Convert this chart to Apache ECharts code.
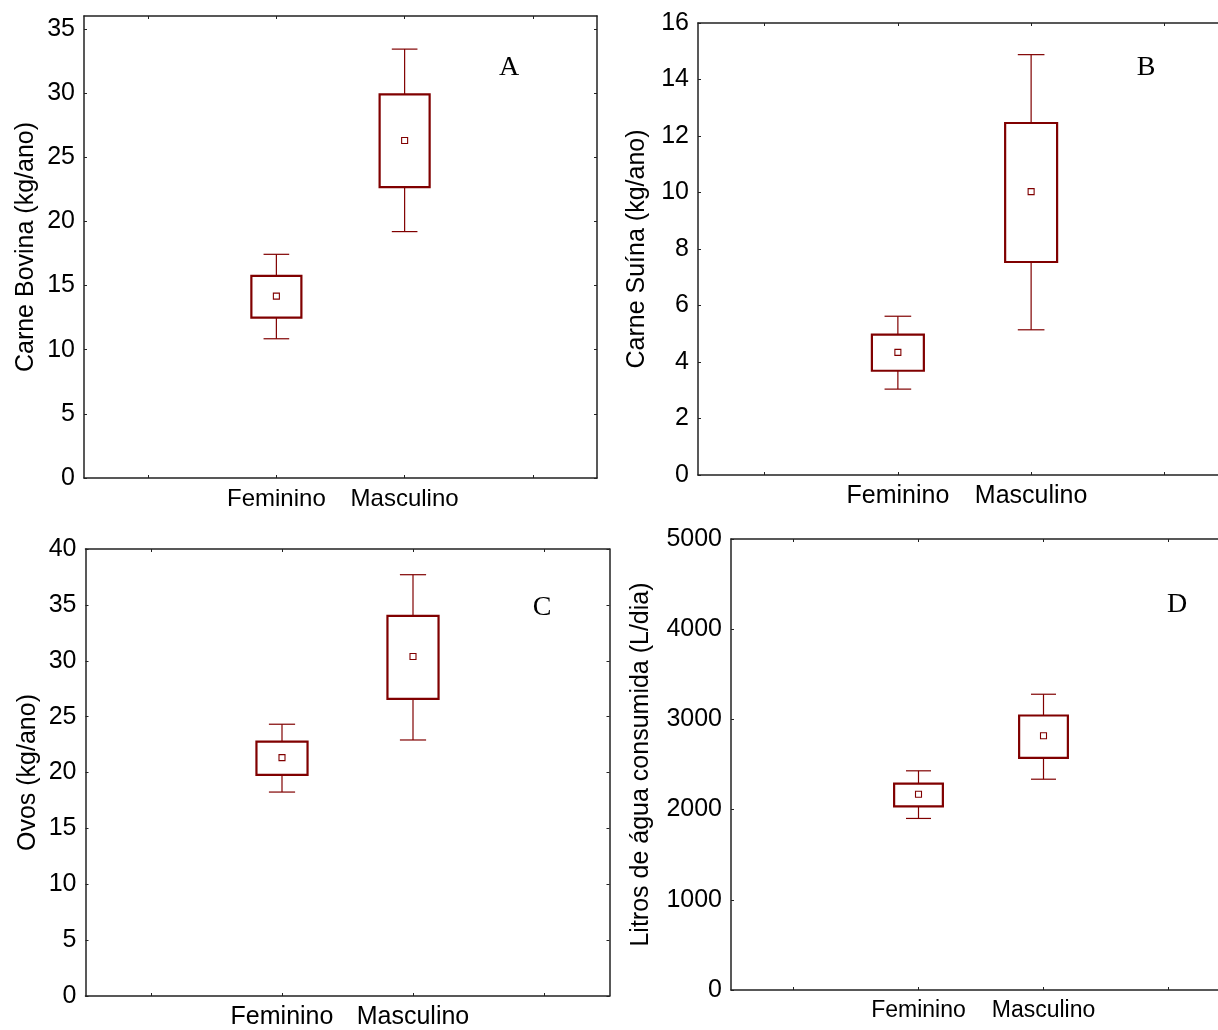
<!DOCTYPE html>
<html>
<head>
<meta charset="utf-8">
<script src="https://cdn.jsdelivr.net/npm/echarts@6/dist/echarts.min.js"></script>
<style>
  html, body { margin: 0; padding: 0; background: #fff; }
  #chart { width: 1218px; height: 1030px; }
</style>
</head>
<body>
<div id="chart"></div>
<script>
// Groups shown on every panel
const categories = ['Feminino', 'Masculino'];

// Each entry: [lower whisker, box bottom, mean, box top, upper whisker]
const bovinaFem = [10.85, 12.49, 14.17, 15.75, 17.43];
const bovinaMasc = [19.2, 22.67, 26.3, 29.9, 33.42];
const suinaFem = [3.04, 3.69, 4.34, 4.97, 5.62];
const suinaMasc = [5.14, 7.54, 10.03, 12.46, 14.88];
const ovosFem = [18.25, 19.78, 21.33, 22.76, 24.32];
const ovosMasc = [22.91, 26.59, 30.38, 34.02, 37.7];
const aguaFem = [1902, 2035, 2171, 2289, 2430];
const aguaMasc = [2337, 2574, 2818, 3043, 3279];

// Y-axis tick values
const bovinaTicks = [0, 5, 10, 15, 20, 25, 30, 35];
const suinaTicks = [0, 2, 4, 6, 8, 10, 12, 14, 16];
const ovosTicks = [0, 5, 10, 15, 20, 25, 30, 35, 40];
const aguaTicks = [0, 1000, 2000, 3000, 4000, 5000];

const FONT = '"Liberation Sans", Arial, sans-serif';
const SERIF = '"Liberation Serif", "Times New Roman", serif';
const DARK_RED = '#800000';
const AXIS_COLOR = '#222';

// Category slots: an empty slot on each side of the two groups
const slots = [''].concat(categories, ['']);

const panels = [
  { letter: 'A', name: 'Carne Bovina (kg/ano)', fem: bovinaFem, masc: bovinaMasc, ticks: bovinaTicks,
    max: 36, grid: { left: 84, top: 16, width: 513, height: 462 }, nameGap: 45, xFont: 24,
    letterPos: [509, 68] },
  { letter: 'B', name: 'Carne Su\u00edna (kg/ano)', fem: suinaFem, masc: suinaMasc, ticks: suinaTicks,
    max: 16, grid: { left: 698, top: 23, width: 533, height: 452 }, nameGap: 48, xFont: 25,
    letterPos: [1146, 68] },
  { letter: 'C', name: 'Ovos (kg/ano)', fem: ovosFem, masc: ovosMasc, ticks: ovosTicks,
    max: 40, grid: { left: 85.5, top: 549, width: 524, height: 447 }, nameGap: 45, xFont: 25,
    letterPos: [542, 608] },
  { letter: 'D', name: 'Litros de \u00e1gua consumida (L/dia)', fem: aguaFem, masc: aguaMasc, ticks: aguaTicks,
    max: 5000, grid: { left: 731, top: 539, width: 500, height: 451 }, nameGap: 77, xFont: 23,
    letterPos: [1177, 605] }
];

// Box with whiskers and a hollow mean marker, drawn in axis coordinates
function renderBox(params, api) {
  const x = api.value(0);
  const pWl = api.coord([x, api.value(1)]);
  const pBl = api.coord([x, api.value(2)]);
  const pM = api.coord([x, api.value(3)]);
  const pBh = api.coord([x, api.value(4)]);
  const pWh = api.coord([x, api.value(5)]);
  const band = api.size([1, 0])[0];
  const bw = band * 0.39;
  const cw = band * 0.2;
  const cx = pM[0];
  const whisker = { stroke: DARK_RED, lineWidth: 1.2 };
  const sq = 6;
  return {
    type: 'group',
    children: [
      { type: 'line', shape: { x1: cx, y1: pBh[1], x2: cx, y2: pWh[1] }, style: whisker },
      { type: 'line', shape: { x1: cx, y1: pBl[1], x2: cx, y2: pWl[1] }, style: whisker },
      { type: 'line', shape: { x1: cx - cw / 2, y1: pWh[1], x2: cx + cw / 2, y2: pWh[1] }, style: whisker },
      { type: 'line', shape: { x1: cx - cw / 2, y1: pWl[1], x2: cx + cw / 2, y2: pWl[1] }, style: whisker },
      { type: 'rect', shape: { x: cx - bw / 2, y: pBh[1], width: bw, height: pBl[1] - pBh[1] },
        style: { fill: 'none', stroke: DARK_RED, lineWidth: 2.2 } },
      { type: 'rect', shape: { x: cx - sq / 2, y: pM[1] - sq / 2, width: sq, height: sq },
        style: { fill: '#fff', stroke: DARK_RED, lineWidth: 1.1 } }
    ]
  };
}

const option = {
  backgroundColor: '#fff',
  animation: false,
  grid: [], xAxis: [], yAxis: [], series: [], graphic: []
};

panels.forEach((p, i) => {
  option.grid.push(Object.assign({ outerBoundsMode: 'none', containLabel: false, show: false }, p.grid));
  const baseX = {
    type: 'category', data: slots, gridIndex: i, boundaryGap: true,
    axisLine: { show: true, onZero: false, lineStyle: { color: AXIS_COLOR, width: 1.5 } },
    axisTick: { show: true, inside: true, length: 3, alignWithLabel: true, interval: 0,
                lineStyle: { color: AXIS_COLOR, width: 1 } },
    splitLine: { show: false }
  };
  option.xAxis.push(Object.assign({}, baseX, {
    position: 'bottom',
    axisLabel: { show: true, interval: 0, margin: 9, color: '#000', fontSize: p.xFont, fontFamily: FONT }
  }));
  option.xAxis.push(Object.assign({}, baseX, { position: 'top', axisLabel: { show: false } }));

  const baseY = {
    type: 'value', gridIndex: i, min: 0, max: p.max,
    axisLine: { show: true, onZero: false, lineStyle: { color: AXIS_COLOR, width: 1.5 } },
    axisTick: { show: true, inside: true, length: 3, customValues: p.ticks,
                lineStyle: { color: AXIS_COLOR, width: 1 } },
    splitLine: { show: false }
  };
  option.yAxis.push(Object.assign({}, baseY, {
    position: 'left',
    name: p.name, nameLocation: 'middle', nameRotate: 90, nameGap: p.nameGap,
    nameTextStyle: { color: '#000', fontSize: 25, fontFamily: FONT },
    axisLabel: { show: true, customValues: p.ticks, margin: 9, color: '#000', fontSize: 25, fontFamily: FONT,
                 formatter: (v) => String(v) }
  }));
  option.yAxis.push(Object.assign({}, baseY, { position: 'right', axisLabel: { show: false } }));

  option.series.push({
    type: 'custom',
    xAxisIndex: 2 * i, yAxisIndex: 2 * i,
    renderItem: renderBox,
    encode: { x: 0, y: [1, 2, 3, 4, 5] },
    data: [[1].concat(p.fem), [2].concat(p.masc)],
    silent: true
  });

  option.graphic.push({
    type: 'text', x: p.letterPos[0], y: p.letterPos[1],
    style: { text: p.letter, fill: '#000', font: '28px ' + SERIF, align: 'center', verticalAlign: 'middle' }
  });
});

const chart = echarts.init(document.getElementById('chart'), null, { renderer: 'canvas' });
chart.setOption(option);
</script>
</body>
</html>
